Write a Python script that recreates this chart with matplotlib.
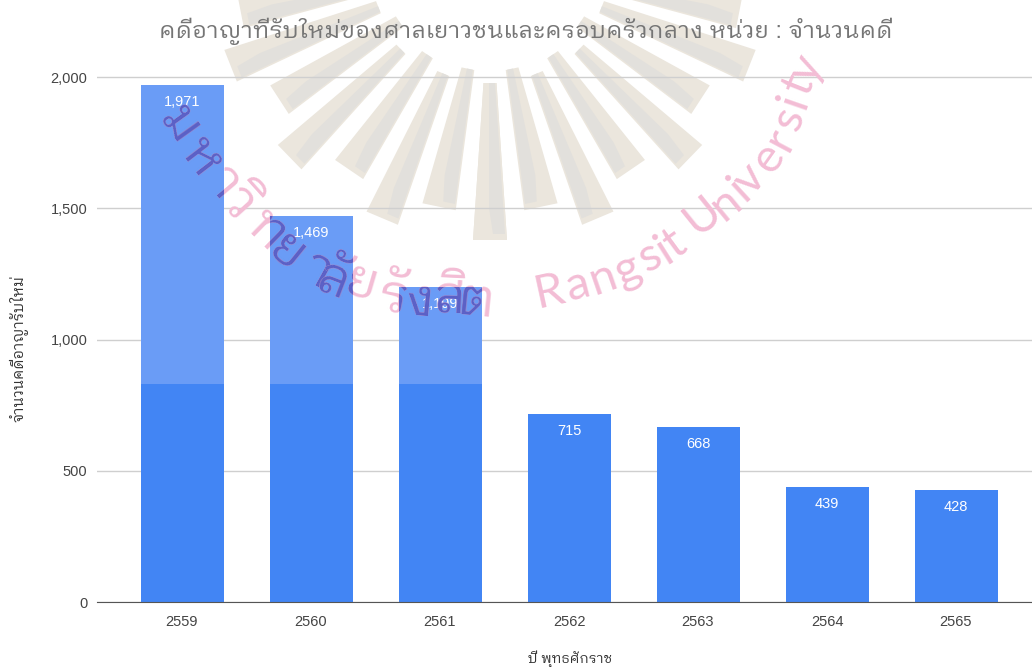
import numpy as np
import matplotlib
matplotlib.use('Agg')
import matplotlib.pyplot as plt
from matplotlib.patches import Polygon

THAI_FONT = ['Liberation Sans', 'IBM Plex Sans Thai Looped', 'DejaVu Sans']
plt.rcParams['font.family'] = THAI_FONT

years = ['2559', '2560', '2561', '2562', '2563', '2564', '2565']
cases = [1971, 1469, 1199, 715, 668, 439, 428]
y_ticks = [0, 500, 1000, 1500, 2000]
y_tick_labels = ['0', '500', '1,000', '1,500', '2,000']
value_labels = ['1,971', '1,469', '1,199', '715', '668', '439', '428']
# the scan is darker under this level, lighter above it
dark_level = 830

title = 'คดีอาญาที่รับใหม่ของศาลเยาวชนและครอบครัวกลาง หน่วย : จำนวนคดี'
x_title = 'ปี พุทธศักราช'
y_title = 'จำนวนคดีอาญารับใหม่'

# watermark: sun rays (angle from straight down, inner and outer radius in px)
ray_angles = [0, 11.8, 22.9, 34.3, 45.9, 57, 68.4, 79]
ray_inner = [120, 108, 120, 111, 124, 108, 120, 108]
ray_outer = [277, 249, 277, 250, 279, 251, 279, 254]
ray_center = (490, -37)

# watermark: lettering that follows the seal's curve, one cluster at a time
thai_glyphs = ['ม', 'ห', 'า', 'วิ', 'ท', 'ย', 'า', 'ลั', 'ย', 'รั', 'ง', 'สิ', 'ต']
thai_x = [183, 205, 227, 243, 270, 290, 320, 335, 363, 393, 420, 450, 477]
thai_y = [123, 155, 180, 200, 227, 250, 267, 277, 280, 293, 297, 293, 297]
latin_glyphs = list('RangsitUniversity')
latin_x = [548, 577, 602, 626, 648, 662, 673, 700, 723, 737, 747, 765, 777, 785, 790, 795, 803]
latin_y = [288, 282, 275, 266, 253, 248, 240, 213, 200, 187, 177, 155, 137, 117, 100, 83, 67]


def draw_rays(ax):
    cx, cy = ray_center
    c = np.array([cx, cy])
    for angle, r0, r1 in zip(ray_angles, ray_inner, ray_outer):
        for sign in (1, -1):
            a = np.radians(angle * sign)
            d = np.array([np.sin(a), np.cos(a)])
            n = np.array([d[1], -d[0]])
            outer = [c + d * r0 - n * 6.5, c + d * r0 + n * 6.5,
                     c + d * r1 + n * 17, c + d * r1 - n * 17]
            ax.add_patch(Polygon(outer, closed=True, fc='#EBE6DD', ec='none'))
            # grey facet down the inner side of each ray
            side = -sign if angle else 1
            inner = [c + d * r0 + n * side * 5, c + d * r0 - n * side * 1,
                     c + d * (r1 - 32) - n * side * 1, c + d * (r1 - 6) + n * side * 3,
                     c + d * (r1 - 6) + n * side * 15]
            ax.add_patch(Polygon(inner, closed=True, fc='#E2E0DC', ec='none'))


def draw_curved_text(ax, glyphs, xs, ys, font, size, bars=None):
    xs = np.array(xs, dtype=float)
    ys = np.array(ys, dtype=float)
    angles = np.arctan2(-np.gradient(ys), np.gradient(xs))
    angles = np.convolve(np.pad(angles, 1, mode='edge'), np.ones(3) / 3, mode='valid')
    for g, x, y, a in zip(glyphs, xs, ys, angles):
        bx = x + np.sin(a) * size * 0.5
        by = y + np.cos(a) * size * 0.5
        kw = dict(ha='center', va='baseline', rotation=np.degrees(a),
                  rotation_mode='anchor', family=font, fontsize=size)
        ax.text(bx, by, g, color='#F3BDD5', **kw)
        for bar in bars or []:
            t = ax.text(bx, by, g, color='#5A60C6', **kw)
            t.set_clip_on(True)
            t.set_clip_path(bar)


def main():
    fig = plt.figure(figsize=(10.32, 6.67), dpi=100, facecolor='white')

    # pixel-coordinate layer behind the chart
    back = fig.add_axes([0, 0, 1, 1], zorder=0)
    back.set_xlim(0, 1032)
    back.set_ylim(667, 0)
    back.axis('off')
    draw_rays(back)

    left, right = 97, 1032
    top_px = 72
    ax = fig.add_axes([left / 1032, (667 - 602) / 667, (right - left) / 1032, (602 - top_px) / 667], zorder=1)
    ax.patch.set_alpha(0)
    ax.set_xlim((left - 182) / 129, (right - 182) / 129)
    ax.set_ylim(0, (602 - top_px) / 525 * 2000)

    xs = np.arange(len(years))
    bar_width = 83 / 129
    light = ax.bar(xs, cases, width=bar_width, color='#6A9CF6', zorder=3)
    ax.bar(xs, [min(v, dark_level) for v in cases], width=bar_width, color='#4285F4', zorder=3)

    ax.set_xticks(xs)
    ax.set_xticklabels(years)
    ax.set_yticks(y_ticks)
    ax.set_yticklabels(y_tick_labels)
    ax.tick_params(axis='both', length=0, labelsize=10.5, labelcolor='#444444', pad=7)
    ax.tick_params(axis='x', pad=9)
    ax.grid(axis='y', color='#CFCFCF', linewidth=1, zorder=1)
    ax.set_axisbelow(True)
    for name in ['top', 'left', 'right']:
        ax.spines[name].set_visible(False)
    ax.spines['bottom'].set_color('#555555')
    ax.spines['bottom'].set_zorder(4)

    for x, v, label in zip(xs, cases, value_labels):
        ax.annotate(label, (x, v), xytext=(0, -10), textcoords='offset pixels', ha='center', va='top',
                    color='white', fontsize=10.5, zorder=5)

    fig.text(526 / 1032, 1 - 31 / 667, title, ha='center', va='center', color='#757575', fontsize=16.9)
    fig.text(570 / 1032, 1 - 660 / 667, x_title, ha='center', va='center', color='#333333', fontsize=10)
    fig.text(19 / 1032, 1 - 349 / 667, y_title, ha='center', va='center', rotation=90, color='#333333', fontsize=10.5)

    # watermark lettering on top of everything
    front = fig.add_axes([0, 0, 1, 1], zorder=2)
    front.patch.set_alpha(0)
    front.set_xlim(0, 1032)
    front.set_ylim(667, 0)
    front.axis('off')
    draw_curved_text(front, thai_glyphs, thai_x, thai_y, ['IBM Plex Sans Thai Looped', 'DejaVu Sans'], 38, bars=list(light)[:3])
    draw_curved_text(front, latin_glyphs, latin_x, latin_y, ['Lato', 'DejaVu Sans'], 34)

    fig.savefig('out.png', dpi=100)


if __name__ == '__main__':
    main()
